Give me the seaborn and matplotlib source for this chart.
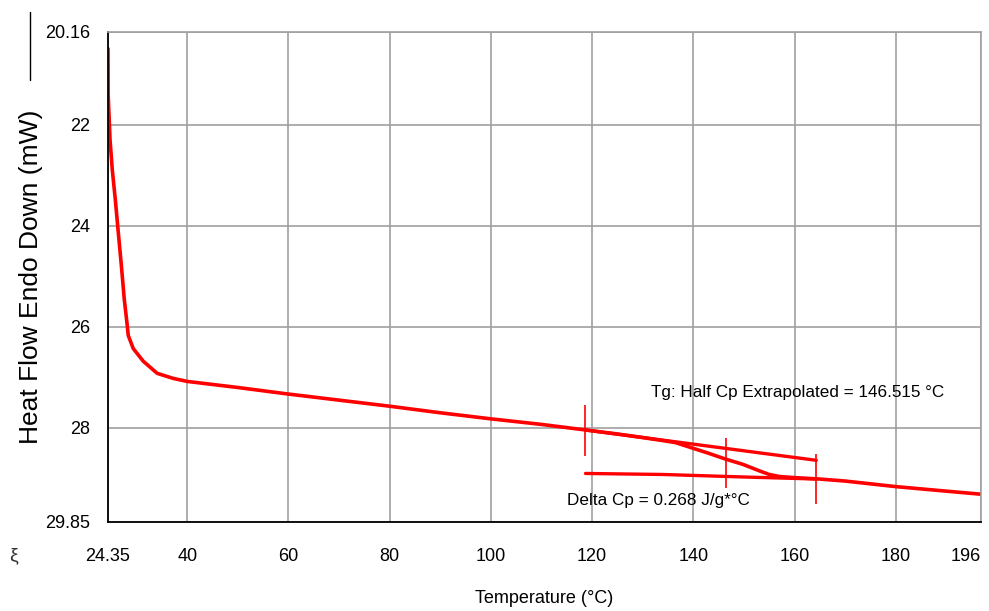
# DSC heat flow curve with Tg analysis
import pandas as pd
import seaborn as sns
import matplotlib.pyplot as plt
from matplotlib.lines import Line2D

# main heat flow curve
temperature = [24.35, 24.38, 24.75, 25.20, 25.79, 26.38, 27.00, 27.56, 28.16, 28.35,
               29.34, 31.31, 34.07, 37.23, 40.00, 50.00, 60.00, 70.00, 80.00, 90.00,
               100.00, 110.00, 118.70, 125.00, 130.00, 134.00, 136.50, 139.90, 143.00, 146.50,
               149.80, 153.10, 155.00, 157.00, 159.60, 164.90, 170.00, 180.00, 190.00, 196.80]
heat_flow = [20.50, 21.40, 22.30, 22.90, 23.48, 24.13, 24.80, 25.45, 25.98, 26.17,
             26.43, 26.68, 26.92, 27.02, 27.08, 27.20, 27.33, 27.45, 27.57, 27.70,
             27.82, 27.93, 28.04, 28.12, 28.19, 28.25, 28.29, 28.40, 28.50, 28.62,
             28.72, 28.85, 28.92, 28.96, 28.98, 29.01, 29.05, 29.16, 29.25, 29.31]

# extrapolated baselines
upper_t = [118.7, 164.3]
upper_hf = [28.04, 28.64]
lower_t = [118.7, 134.0, 150.0, 164.3]
lower_hf = [28.90, 28.92, 28.97, 29.01]

# analysis markers: temperature, top, bottom
marker_t = [118.7, 146.5, 164.3]
marker_top = [27.55, 28.20, 28.51]
marker_bottom = [28.55, 29.18, 29.51]

x_ticks = [24.35, 40, 60, 80, 100, 120, 140, 160, 180, 196.85]
x_tick_labels = ['24.35', '40', '60', '80', '100', '120', '140', '160', '180', '196']
y_ticks = [20.16, 22, 24, 26, 28, 29.85]
y_tick_labels = ['20.16', '22', '24', '26', '28', '29.85']

sns.set_style('white')
plt.rcParams['font.family'] = ['Liberation Sans', 'DejaVu Sans']
plt.rcParams['text.color'] = 'black'

fig = plt.figure(figsize=(9.89, 6.11), dpi=100)
ax = fig.add_axes([108 / 989, 1 - 521.5 / 611, (981 - 108) / 989, (521.5 - 31.5) / 611])

curve = pd.DataFrame({'T': temperature, 'HF': heat_flow})
sns.lineplot(data=curve, x='T', y='HF', sort=False, color='#ff0000', linewidth=2.6, ax=ax)

base_up = pd.DataFrame({'T': upper_t, 'HF': upper_hf})
base_low = pd.DataFrame({'T': lower_t, 'HF': lower_hf})
sns.lineplot(data=base_up, x='T', y='HF', sort=False, color='#ff0000', linewidth=2.4, ax=ax)
sns.lineplot(data=base_low, x='T', y='HF', sort=False, color='#ff0000', linewidth=2.4, ax=ax)

ax.vlines(marker_t, marker_top, marker_bottom, color='#ff0000', linewidth=1.2)

ax.set_xlim(24.35, 196.85)
ax.set_ylim(29.85, 20.16)
ax.set_xticks(x_ticks)
ax.set_xticklabels(x_tick_labels, fontsize=13, color='black')
ax.get_xticklabels()[-1].set_horizontalalignment('right')
ax.set_yticks(y_ticks)
ax.set_yticklabels(y_tick_labels, fontsize=13, color='black')
ax.tick_params(axis='x', direction='out', length=8, width=1.2, color='black', pad=11)
ax.tick_params(axis='y', direction='out', length=6, width=1.2, color='black', pad=7)

ax.grid(True, color='#a0a0a0', linewidth=1.2)
for side in ['left', 'bottom']:
    ax.spines[side].set_color('black')
    ax.spines[side].set_linewidth(1.3)
for side in ['top', 'right']:
    ax.spines[side].set_color('#a0a0a0')
    ax.spines[side].set_linewidth(1.2)

ax.set_xlabel('Temperature (°C)', fontsize=13, labelpad=18, color='black')
ax.set_ylabel('')
fig.text(31 / 989, 1 - 277 / 611, 'Heat Flow Endo Down (mW)', rotation=90,
         ha='center', va='center', fontsize=19, color='black')
fig.add_artist(Line2D([30 / 989, 30 / 989], [1 - 12 / 611, 1 - 80 / 611],
                      color='black', linewidth=1.0))
fig.text(13 / 989, 1 - 556 / 611, 'ξ', ha='center', va='center', fontsize=14, color='#333333')

ax.text(131.7, 27.29, 'Tg: Half Cp Extrapolated = 146.515 °C', fontsize=12.3,
        ha='left', va='center')
ax.text(115.1, 29.43, 'Delta Cp = 0.268 J/g*°C', fontsize=12.3, ha='left', va='center')

fig.savefig('out.png', dpi=100)
